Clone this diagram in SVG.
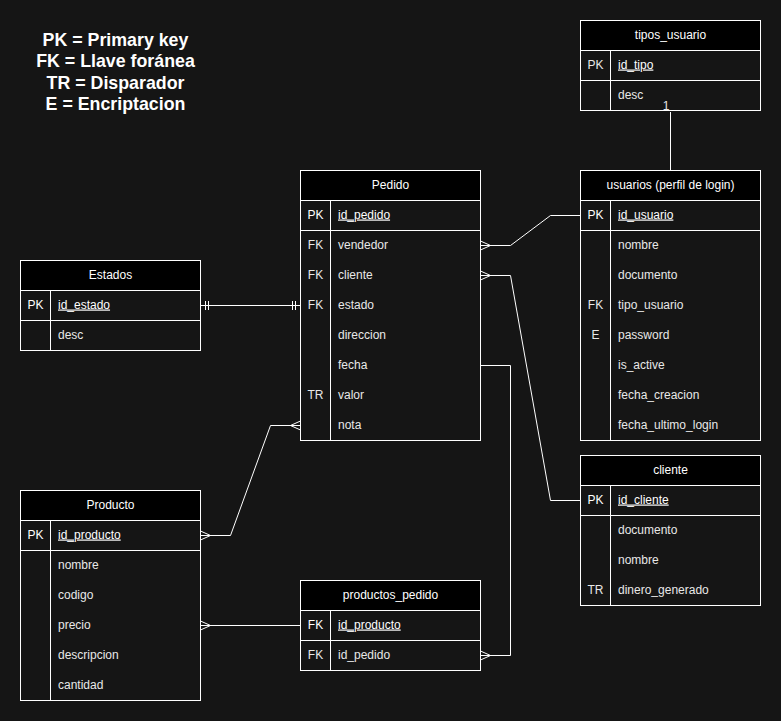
<svg xmlns="http://www.w3.org/2000/svg" width="781" height="721" viewBox="0 0 781 721">
<style>
.bg{fill:#151515}
.tb{fill:#151515;stroke:#fff;stroke-width:1}
.hd{fill:#000;stroke:#fff;stroke-width:1}
.ln{stroke:#fff;stroke-width:1;fill:none}
.t{font-family:"Liberation Sans",Arial,sans-serif;font-size:12px;fill:#e8e8e8}
.h{text-anchor:middle;fill:#fff}
.k{text-anchor:middle}
.b{fill:#fff}
.u{text-decoration:underline}
.leg{font-family:"Liberation Sans",Arial,sans-serif;font-size:17.8px;font-weight:bold;fill:#fff;text-anchor:middle}
.c{stroke:#fff;stroke-width:1;fill:none}
</style>
<rect class="bg" x="0" y="0" width="781" height="721"/>

<g id="legend">
<text class="leg" x="115.5" y="46">PK = Primary key</text>
<text class="leg" x="115.5" y="67">FK = Llave foránea</text>
<text class="leg" x="115.5" y="88.5">TR = Disparador</text>
<text class="leg" x="115.5" y="110">E = Encriptacion</text>
</g>

<g id="tipos_usuario">
<rect class="tb" x="580.5" y="20.5" width="180" height="90"/>
<rect class="hd" x="580.5" y="20.5" width="180" height="30"/>
<path class="ln" d="M580.5,80.5 H760.5 M610.5,50.5 V110.5"/>
<text class="t h" x="670.5" y="38.5">tipos_usuario</text>
<text class="t k" x="595.5" y="68.5">PK</text>
<text class="t u b" x="618" y="68.5">id_tipo</text>
<text class="t" x="618" y="98.5">desc</text>
</g>

<g id="usuarios">
<rect class="tb" x="580.5" y="170.5" width="180" height="270"/>
<rect class="hd" x="580.5" y="170.5" width="180" height="30"/>
<path class="ln" d="M580.5,230.5 H760.5 M610.5,200.5 V440.5"/>
<text class="t h" x="670.5" y="188.5">usuarios (perfil de login)</text>
<text class="t k b" x="595.5" y="218.5">PK</text>
<text class="t b u" x="618" y="218.5">id_usuario</text>
<text class="t" x="618" y="248.5">nombre</text>
<text class="t" x="618" y="278.5">documento</text>
<text class="t k" x="595.5" y="308.5">FK</text>
<text class="t" x="618" y="308.5">tipo_usuario</text>
<text class="t k" x="595.5" y="338.5">E</text>
<text class="t" x="618" y="338.5">password</text>
<text class="t" x="618" y="368.5">is_active</text>
<text class="t" x="618" y="398.5">fecha_creacion</text>
<text class="t" x="618" y="428.5">fecha_ultimo_login</text>
</g>

<g id="cliente">
<rect class="tb" x="580.5" y="455.5" width="180" height="150"/>
<rect class="hd" x="580.5" y="455.5" width="180" height="30"/>
<path class="ln" d="M580.5,515.5 H760.5 M610.5,485.5 V605.5"/>
<text class="t h" x="670.5" y="473.5">cliente</text>
<text class="t k b" x="595.5" y="503.5">PK</text>
<text class="t b u" x="618" y="503.5">id_cliente</text>
<text class="t" x="618" y="533.5">documento</text>
<text class="t" x="618" y="563.5">nombre</text>
<text class="t k" x="595.5" y="593.5">TR</text>
<text class="t" x="618" y="593.5">dinero_generado</text>
</g>

<g id="Pedido">
<rect class="tb" x="300.5" y="170.5" width="180" height="270"/>
<rect class="hd" x="300.5" y="170.5" width="180" height="30"/>
<path class="ln" d="M300.5,230.5 H480.5 M330.5,200.5 V440.5"/>
<text class="t h" x="390.5" y="188.5">Pedido</text>
<text class="t k b" x="315.5" y="218.5">PK</text>
<text class="t b u" x="338" y="218.5">id_pedido</text>
<text class="t k" x="315.5" y="248.5">FK</text>
<text class="t" x="338" y="248.5">vendedor</text>
<text class="t k" x="315.5" y="278.5">FK</text>
<text class="t" x="338" y="278.5">cliente</text>
<text class="t k" x="315.5" y="308.5">FK</text>
<text class="t" x="338" y="308.5">estado</text>
<text class="t" x="338" y="338.5">direccion</text>
<text class="t" x="338" y="368.5">fecha</text>
<text class="t k" x="315.5" y="398.5">TR</text>
<text class="t" x="338" y="398.5">valor</text>
<text class="t" x="338" y="428.5">nota</text>
</g>

<g id="Estados">
<rect class="tb" x="20.5" y="260.5" width="180" height="90"/>
<rect class="hd" x="20.5" y="260.5" width="180" height="30"/>
<path class="ln" d="M20.5,320.5 H200.5 M50.5,290.5 V350.5"/>
<text class="t h" x="110.5" y="278.5">Estados</text>
<text class="t k b" x="35.5" y="308.5">PK</text>
<text class="t b u" x="58" y="308.5">id_estado</text>
<text class="t" x="58" y="338.5">desc</text>
</g>

<g id="Producto">
<rect class="tb" x="20.5" y="490.5" width="180" height="210"/>
<rect class="hd" x="20.5" y="490.5" width="180" height="30"/>
<path class="ln" d="M20.5,550.5 H200.5 M50.5,520.5 V700.5"/>
<text class="t h" x="110.5" y="508.5">Producto</text>
<text class="t k b" x="35.5" y="538.5">PK</text>
<text class="t b u" x="58" y="538.5">id_producto</text>
<text class="t" x="58" y="568.5">nombre</text>
<text class="t" x="58" y="598.5">codigo</text>
<text class="t" x="58" y="628.5">precio</text>
<text class="t" x="58" y="658.5">descripcion</text>
<text class="t" x="58" y="688.5">cantidad</text>
</g>

<g id="productos_pedido">
<rect class="tb" x="300.5" y="580.5" width="180" height="90"/>
<rect class="hd" x="300.5" y="580.5" width="180" height="30"/>
<path class="ln" d="M300.5,640.5 H480.5 M330.5,610.5 V670.5"/>
<text class="t h" x="390.5" y="598.5">productos_pedido</text>
<text class="t k b" x="315.5" y="628.5">FK</text>
<text class="t b u" x="338" y="628.5">id_producto</text>
<text class="t k" x="315.5" y="658.5">FK</text>
<text class="t" x="338" y="658.5">id_pedido</text>
</g>

<g id="connectors">
<!-- vendedor -> id_usuario -->
<path class="c" d="M480.5,245.5 H510.5 L550.5,215.5 H580.5"/>
<path class="c" d="M480.5,241 L490.5,245.5 M480.5,250 L490.5,245.5"/>
<!-- cliente -> id_cliente -->
<path class="c" d="M480.5,275.5 H510.5 L550.5,500.5 H580.5"/>
<path class="c" d="M480.5,271 L490.5,275.5 M480.5,280 L490.5,275.5"/>
<!-- fecha -> productos_pedido.id_pedido -->
<path class="c" d="M480.5,365.5 H510.5 V655.5 H480.5"/>
<path class="c" d="M480.5,651 L490.5,655.5 M480.5,660 L490.5,655.5"/>
<!-- Estados -> Pedido.estado -->
<path class="c" d="M200.5,305.5 H300.5"/>
<path class="c" d="M205.5,301 V310 M208.5,301 V310 M292.5,301 V310 M295.5,301 V310"/>
<!-- Producto.id_producto -> Pedido.nota -->
<path class="c" d="M200.5,535.5 H230.5 L270.5,425.5 H300.5"/>
<path class="c" d="M200.5,531 L210.5,535.5 M200.5,540 L210.5,535.5"/>
<path class="c" d="M300.5,421 L290.5,425.5 M300.5,430 L290.5,425.5"/>
<!-- Producto.precio -> productos_pedido.id_producto -->
<path class="c" d="M200.5,625.5 H300.5"/>
<path class="c" d="M200.5,621 L210.5,625.5 M200.5,630 L210.5,625.5"/>
<!-- tipos_usuario -> usuarios -->
<path class="c" d="M670.5,112 V170.5"/>
<text class="t" x="666" y="109.5" text-anchor="middle">1</text>
</g>
</svg>
